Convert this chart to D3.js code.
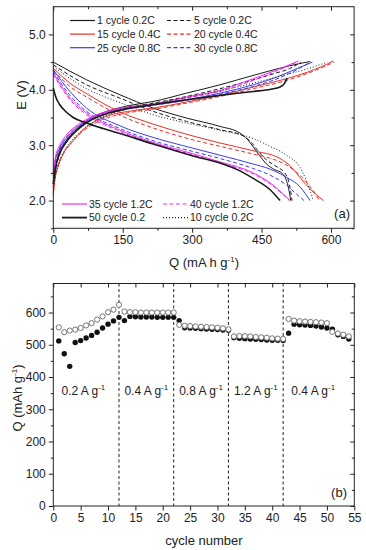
<!DOCTYPE html>
<html>
<head>
<meta charset="utf-8">
<script src="https://cdn.jsdelivr.net/npm/d3@7"></script>
<style>
  body { margin: 0; background: #fff; }
  svg { font-family: Arial, "Liberation Sans", sans-serif; }
</style>
</head>
<body>
<svg id="chart" width="366" height="550"></svg>
<script>
// ---- panel (a): charge (rising) and discharge (falling) curves, [Q mAh/g, E V]
const charge1 = [[0,2.30],[5,2.6],[12,2.85],[25,3.05],[45,3.25],[70,3.42],[100,3.56],[140,3.67],[180,3.74],[216,3.79],[288,3.94],[360,4.09],[432,4.26],[504,4.42],[530,4.47],[555,4.51]];
const discharge1 = [[0,4.5],[72,4.18],[144,3.91],[216,3.67],[288,3.49],[360,3.34],[403,3.22],[420,3.1],[432,2.97],[445,2.82],[461,2.66],[478,2.56],[495,2.49],[503,2.38],[509,2.2],[513,2.0]];
const charge5 = [[0,2.35],[6,2.6],[14,2.85],[28,3.05],[48,3.25],[72,3.4],[100,3.53],[140,3.64],[180,3.71],[216,3.76],[288,3.88],[360,4.02],[432,4.18],[480,4.3],[510,4.38],[535,4.5]];
const discharge5 = [[0,4.45],[72,4.09],[144,3.85],[216,3.61],[288,3.43],[360,3.28],[410,3.17],[428,3.05],[442,2.9],[460,2.74],[485,2.6],[500,2.5],[510,2.3],[516,2.0]];
const charge10 = [[0,2.25],[6,2.5],[15,2.75],[30,2.98],[50,3.18],[75,3.36],[105,3.5],[144,3.62],[180,3.7],[216,3.75],[288,3.86],[360,3.98],[432,4.12],[500,4.27],[550,4.38],[592,4.5]];
const discharge10 = [[0,4.42],[72,4.02],[144,3.77],[216,3.55],[288,3.4],[360,3.27],[432,3.12],[468,2.98],[504,2.82],[533,2.6],[547,2.36],[556,2.15],[562,2.0]];
const charge15 = [[0,2.1],[4,2.4],[10,2.6],[22,2.85],[40,3.05],[65,3.28],[95,3.45],[130,3.56],[170,3.62],[216,3.67],[288,3.78],[360,3.9],[432,4.05],[504,4.2],[550,4.32],[580,4.42],[605,4.52]];
const discharge15 = [[0,4.39],[36,4.12],[72,3.93],[144,3.6],[216,3.38],[300,3.17],[360,3.04],[432,2.9],[490,2.76],[510,2.64],[525,2.5],[545,2.3],[565,2.13],[584,2.0]];
const charge20 = [[0,2.15],[4,2.45],[12,2.68],[25,2.9],[42,3.08],[68,3.28],[100,3.44],[140,3.55],[180,3.61],[216,3.65],[288,3.76],[360,3.88],[432,4.02],[504,4.17],[560,4.33],[607,4.5]];
const discharge20 = [[0,4.36],[36,4.06],[72,3.87],[144,3.54],[216,3.31],[300,3.1],[360,2.98],[432,2.84],[470,2.76],[500,2.66],[520,2.55],[540,2.4],[555,2.25],[568,2.1],[575,2.0]];
const charge25 = [[0,2.5],[5,2.75],[14,2.95],[30,3.15],[55,3.35],[85,3.5],[120,3.6],[160,3.67],[216,3.73],[288,3.82],[360,3.94],[432,4.09],[480,4.22],[520,4.36],[560,4.5]];
const discharge25 = [[0,4.36],[36,3.97],[72,3.67],[144,3.35],[216,3.14],[300,2.95],[360,2.82],[432,2.66],[468,2.57],[504,2.42],[533,2.25],[545,2.12],[555,2.0]];
const charge30 = [[0,2.45],[5,2.7],[14,2.92],[30,3.12],[55,3.32],[85,3.47],[120,3.58],[160,3.65],[216,3.72],[288,3.81],[360,3.92],[432,4.06],[490,4.22],[530,4.38],[555,4.5]];
const discharge30 = [[0,4.33],[36,3.9],[72,3.61],[144,3.3],[216,3.08],[300,2.89],[360,2.76],[432,2.58],[468,2.46],[504,2.28],[525,2.12],[542,2.0]];
const charge35 = [[0,2.55],[5,2.8],[14,3.0],[30,3.2],[55,3.38],[85,3.52],[120,3.62],[160,3.69],[216,3.74],[288,3.87],[360,3.99],[432,4.2],[480,4.35],[510,4.45],[530,4.52]];
const discharge35 = [[0,4.3],[36,3.85],[72,3.58],[144,3.27],[216,3.05],[300,2.85],[360,2.7],[432,2.5],[475,2.28],[503,2.07],[512,2.0]];
const charge40 = [[0,2.5],[5,2.76],[14,2.97],[30,3.17],[55,3.36],[85,3.5],[120,3.6],[160,3.68],[216,3.73],[288,3.85],[360,3.97],[432,4.17],[480,4.33],[510,4.44],[526,4.5]];
const discharge40 = [[0,4.28],[36,3.82],[72,3.55],[144,3.25],[216,3.03],[300,2.83],[360,2.68],[432,2.48],[475,2.26],[500,2.08],[510,2.0]];
const charge50 = [[0,2.3],[5,2.6],[14,2.85],[30,3.08],[55,3.3],[85,3.47],[120,3.58],[160,3.66],[216,3.73],[288,3.82],[360,3.9],[432,3.97],[470,4.01],[490,4.05],[500,4.12],[505,4.21]];
const discharge50 = [[0,4.03],[5,3.88],[14,3.73],[28,3.6],[43,3.5],[72,3.4],[108,3.3],[144,3.21],[216,3.02],[300,2.81],[360,2.68],[400,2.55],[432,2.4],[468,2.2],[490,2.0]];

const qTicks = [0, 150, 300, 450, 600];
const eTicks = [2, 3, 4, 5];

// ---- panel (b): rate capability
const cycles = d3.range(1, 55);
const dischargeCap = [512,472,433,507,513,521,529,539,552,564,574,585,575,
  588,587,586,586,586,585,585,585,585,575,
  553,552,551,550,549,548,547,546,545,
  522,520,519,518,517,516,515,514,514,513,
  536,564,562,561,560,558,555,552,548,531,526,518];
const chargeCap = [554,539,544,547,552,560,567,578,588,601,609,624,603,
  601,601,600,600,600,600,600,600,600,562,
  559,558,557,556,555,554,553,551,548,
  526,527,527,526,524,523,522,520,519,518,
  580,575,573,572,571,570,569,567,540,535,531,526];
const rateBreaks = [12, 22, 32, 42];
const rateLabels = ["0.2", "0.4", "0.8", "1.2", "0.4"];
const rateCenters = [5.5, 17, 27, 37, 47.5];
const cycleTicks = d3.range(0, 56, 5);
const capTicks = d3.range(0, 601, 100);

const svg = d3.select("#chart");
const ink = "#222";

// ================= panel (a)
const xA = d3.scaleLinear().domain([0, 650]).range([53.3, 354.1]);
const yA = d3.scaleLinear().domain([1.5, 5.5]).range([228.3, 6.7]);

const series = [
  { label: "1 cycle 0.2C",  c: charge1,  d: discharge1,  color: "#1a1a1a", dash: null,   w: 1 },
  { label: "5 cycle 0.2C",  c: charge5,  d: discharge5,  color: "#1a1a1a", dash: "4,2.5", w: 1 },
  { label: "15 cycle 0.4C", c: charge15, d: discharge15, color: "#e8302a", dash: null,   w: 1 },
  { label: "20 cycle 0.4C", c: charge20, d: discharge20, color: "#e8302a", dash: "4,2.5", w: 1 },
  { label: "25 cycle 0.8C", c: charge25, d: discharge25, color: "#3b3bf0", dash: null,   w: 1 },
  { label: "30 cycle 0.8C", c: charge30, d: discharge30, color: "#3b3bf0", dash: "4,2.5", w: 1 },
  { label: "35 cycle 1.2C", c: charge35, d: discharge35, color: "#ee2cee", dash: null,   w: 1 },
  { label: "40 cycle 1.2C", c: charge40, d: discharge40, color: "#ee2cee", dash: "4,2.5", w: 1 },
  { label: "50 cycle 0.2",  c: charge50, d: discharge50, color: "#1a1a1a", dash: null,   w: 1.6 },
  { label: "10 cycle 0.2C", c: charge10, d: discharge10, color: "#1a1a1a", dash: "1,2",  w: 1 }
];

const lineA = d3.line().x(d => xA(d[0])).y(d => yA(d[1])).curve(d3.curveMonotoneX);
const gA = svg.append("g");
series.forEach(s => {
  [s.c, s.d].forEach(arr => {
    gA.append("path")
      .attr("d", lineA(arr))
      .attr("fill", "none")
      .attr("stroke", s.color)
      .attr("stroke-width", s.w)
      .attr("stroke-dasharray", s.dash);
  });
});

function drawFrame(x, y, xMaj, xMin, yMaj, yMin) {
  const [x0, x1] = x.range();
  const [y0, y1] = y.range();
  const g = svg.append("g").attr("color", ink);
  const bottom = g.append("g").attr("transform", `translate(0,${y0})`)
    .call(d3.axisBottom(x).tickValues(xMaj).tickSize(4.5).tickPadding(3).tickSizeOuter(0));
  g.append("g").attr("transform", `translate(0,${y0})`)
    .call(d3.axisBottom(x).tickValues(xMin).tickSize(2.5).tickFormat("").tickSizeOuter(0));
  g.append("g").attr("transform", `translate(0,${y1})`)
    .call(d3.axisBottom(x).tickValues(xMaj).tickSize(4).tickFormat("").tickSizeOuter(0));
  g.append("g").attr("transform", `translate(0,${y1})`)
    .call(d3.axisBottom(x).tickValues(xMin).tickSize(2.5).tickFormat("").tickSizeOuter(0));
  g.append("g").attr("transform", `translate(${x0},0)`)
    .call(d3.axisLeft(y).tickValues(yMaj).tickSize(4.5).tickPadding(3).tickSizeOuter(0));
  g.append("g").attr("transform", `translate(${x0},0)`)
    .call(d3.axisLeft(y).tickValues(yMin).tickSize(2.5).tickFormat("").tickSizeOuter(0));
  g.append("g").attr("transform", `translate(${x1},0)`)
    .call(d3.axisLeft(y).tickValues(yMaj).tickSize(4).tickFormat("").tickSizeOuter(0));
  g.append("g").attr("transform", `translate(${x1},0)`)
    .call(d3.axisLeft(y).tickValues(yMin).tickSize(2.5).tickFormat("").tickSizeOuter(0));
  g.selectAll(".domain").remove();
  g.selectAll("text").attr("font-size", 12).attr("fill", ink).attr("font-family", "Arial, Liberation Sans, sans-serif");
  g.append("rect")
    .attr("x", x0).attr("y", y1).attr("width", x1 - x0).attr("height", y0 - y1)
    .attr("fill", "none").attr("stroke", ink).attr("stroke-width", 1);
}

drawFrame(xA, yA, qTicks, [75, 225, 375, 525], eTicks, [1.5, 2.5, 3.5, 4.5]);

// legends of panel (a)
const legRowsTop = [[0, 1], [2, 3], [4, 5]];
const legRowsBot = [[6, 7], [8, 9]];
function legend(rows, y0, colX) {
  rows.forEach((row, r) => {
    row.forEach((idx, c) => {
      const s = series[idx];
      const yy = y0 + r * 13.6;
      const lx = colX[c];
      svg.append("line")
        .attr("x1", lx).attr("x2", lx + 25).attr("y1", yy).attr("y2", yy)
        .attr("stroke", s.color).attr("stroke-width", s.w === 1 ? 1.2 : 1.8)
        .attr("stroke-dasharray", s.dash);
      svg.append("text")
        .attr("x", lx + 27).attr("y", yy + 3.8)
        .attr("font-size", 10.5).attr("fill", ink)
        .text(s.label);
    });
  });
}
legend(legRowsTop, 20.5, [70, 167]);
legend(legRowsBot, 204, [62, 163]);

svg.append("text").attr("x", 350).attr("y", 218).attr("text-anchor", "end")
  .attr("font-size", 13).attr("fill", ink).text("(a)");

svg.append("text")
  .attr("transform", "translate(26,95) rotate(-90)")
  .attr("text-anchor", "middle").attr("font-size", 13).attr("fill", ink)
  .text("E (V)");

const qTitle = svg.append("text").attr("x", 204).attr("y", 267)
  .attr("text-anchor", "middle").attr("font-size", 13).attr("fill", ink);
qTitle.append("tspan").text("Q (mA h g");
qTitle.append("tspan").attr("dy", -5).attr("font-size", 8).text("-1");
qTitle.append("tspan").attr("dy", 5).text(")");

// ================= panel (b)
const xB = d3.scaleLinear().domain([0, 55]).range([53.3, 354.3]);
const yB = d3.scaleLinear().domain([0, 690]).range([506, 283.5]);

drawFrame(xB, yB, cycleTicks, [], capTicks, d3.range(50, 690, 100));

svg.append("g").selectAll("line")
  .data(rateBreaks)
  .join("line")
  .attr("x1", d => xB(d)).attr("x2", d => xB(d))
  .attr("y1", yB.range()[1]).attr("y2", yB.range()[0])
  .attr("stroke", ink).attr("stroke-width", 1)
  .attr("stroke-dasharray", "3,2.5");

svg.append("g").selectAll("circle")
  .data(cycles)
  .join("circle")
  .attr("cx", d => xB(d)).attr("cy", (d, i) => yB(dischargeCap[i]))
  .attr("r", 2.7).attr("fill", "#111");

svg.append("g").selectAll("circle")
  .data(cycles)
  .join("circle")
  .attr("cx", d => xB(d)).attr("cy", (d, i) => yB(chargeCap[i]))
  .attr("r", 2.6).attr("fill", "#fff").attr("stroke", "#666").attr("stroke-width", 0.9);

rateLabels.forEach((lab, i) => {
  const t = svg.append("text").attr("x", xB(rateCenters[i])).attr("y", yB(345))
    .attr("text-anchor", "middle").attr("font-size", 12).attr("fill", ink);
  t.append("tspan").text(lab + " A g");
  t.append("tspan").attr("dy", -5).attr("font-size", 8).text("-1");
});

svg.append("text").attr("x", 347).attr("y", 497).attr("text-anchor", "end")
  .attr("font-size", 13).attr("fill", ink).text("(b)");

const capTitle = svg.append("text")
  .attr("transform", "translate(22,398) rotate(-90)")
  .attr("text-anchor", "middle").attr("font-size", 13).attr("fill", ink);
capTitle.append("tspan").text("Q (mAh g");
capTitle.append("tspan").attr("dy", -5).attr("font-size", 8).text("-1");
capTitle.append("tspan").attr("dy", 5).text(")");

svg.append("text").attr("x", 204).attr("y", 545)
  .attr("text-anchor", "middle").attr("font-size", 13).attr("fill", ink)
  .text("cycle number");
</script>
</body>
</html>
